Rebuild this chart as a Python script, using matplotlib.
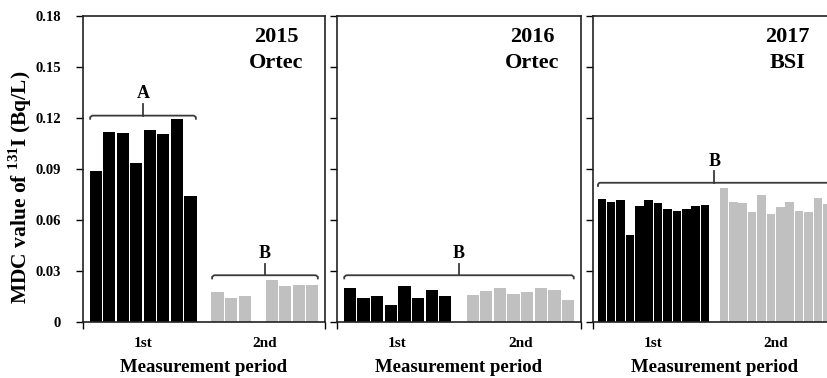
# MDC of I-131 for three measurement years, two periods each

import numpy as np
import matplotlib.pyplot as plt

plt.rcParams['font.family'] = ['Liberation Serif', 'DejaVu Serif']
plt.rcParams['font.weight'] = 'bold'
plt.rcParams['mathtext.fontset'] = 'custom'
plt.rcParams['mathtext.rm'] = 'Liberation Serif:bold'
plt.rcParams['mathtext.bf'] = 'Liberation Serif:bold'

# panel labels
years = ["2015", "2016", "2017"]
detectors = ["Ortec", "Ortec", "BSI"]
periods = ["1st", "2nd"]

# MDC values (Bq/L)
first_2015 = [0.0887, 0.1117, 0.1111, 0.0934, 0.1129, 0.1103, 0.1192, 0.0740]
second_2015 = [0.0175, 0.0141, 0.0153, 0.0, 0.0249, 0.0212, 0.0218, 0.0218]
first_2016 = [0.0202, 0.0141, 0.0153, 0.0098, 0.0214, 0.0141, 0.0188, 0.0153]
second_2016 = [0.0159, 0.0182, 0.0202, 0.0165, 0.0176, 0.0202, 0.0188, 0.0127]
first_2017 = [0.0722, 0.0704, 0.0716, 0.0510, 0.0680, 0.0716, 0.0698, 0.0663,
              0.0651, 0.0663, 0.0680, 0.0686]
second_2017 = [0.0790, 0.0706, 0.0700, 0.0645, 0.0749, 0.0633, 0.0675, 0.0706,
               0.0653, 0.0645, 0.0729, 0.0694]

# significance groups: (which bars, letter, bracket level)
groups_2015 = [("first", "A", 0.1214), ("second", "B", 0.0275)]
groups_2016 = [("all", "B", 0.0275)]
groups_2017 = [("all", "B", 0.0819)]

panels = [
    (first_2015, second_2015, groups_2015),
    (first_2016, second_2016, groups_2016),
    (first_2017, second_2017, groups_2017),
]

yticks = [0, 0.03, 0.06, 0.09, 0.12, 0.15, 0.18]
ytick_labels = ["0", "0.03", "0.06", "0.09", "0.12", "0.15", "0.18"]

fig = plt.figure(figsize=(8.28, 3.78), dpi=100)
H = 378.0
W = 828.0
bottom = (H - 322) / H
height = 306 / H
lefts = [83, 337, 593]
widths = [242, 244, 243]

BW = 0.9


def bracket(ax, x0, x1, y, letter):
    c = '#3a3a3a'
    r = 0.15
    ax.plot([x0, x0, x0 + r, x1 - r, x1, x1],
            [y - 0.0024, y - 0.0009, y, y, y - 0.0009, y - 0.0024],
            color=c, lw=1.3, solid_capstyle='butt', clip_on=False)
    xc = (x0 + x1) / 2
    ax.plot([xc, xc], [y, y + 0.0068], color=c, lw=1.3, clip_on=False)
    ax.text(xc, y + 0.0128, letter, ha='center', va='center', fontsize=13,
            fontweight='bold')


for i, (first, second, groups) in enumerate(panels):
    ax = fig.add_axes([lefts[i] / W, bottom, widths[i] / W, height])
    n = len(first)
    x1 = np.arange(n)
    x2 = np.arange(len(second)) + n + 1
    ax.bar(x1, first, width=BW, color='black', linewidth=0)
    ax.bar(x2, second, width=BW, color='#c0c0c0', linewidth=0)

    ax.set_ylim(0, 0.18)
    ax.set_xlim(-0.93, x2[-1] + 0.93)

    for kind, letter, level in groups:
        if kind == "first":
            a, b = x1[0], x1[-1]
        elif kind == "second":
            a, b = x2[0], x2[-1]
        else:
            a, b = x1[0], x2[-1]
        bracket(ax, a - 0.4, b + 0.4, level, letter)

    ax.text(0.80, 0.930, years[i], transform=ax.transAxes, ha='center',
            va='center', fontsize=16, fontweight='bold')
    ax.text(0.80, 0.846, detectors[i], transform=ax.transAxes, ha='center',
            va='center', fontsize=16, fontweight='bold')

    ax.set_yticks(yticks)
    if i == 0:
        ax.set_yticklabels(ytick_labels, fontsize=10.5, fontweight='bold')
    else:
        ax.set_yticklabels([])
    ax.tick_params(axis='y', direction='out', length=5, width=1.0, pad=11)

    ax.set_xticks([x1.mean(), x2.mean()])
    ax.set_xticklabels(periods, fontsize=11, fontweight='bold')
    ax.set_xticks([ax.get_xlim()[0], ax.get_xlim()[1]], minor=True)
    ax.tick_params(axis='x', which='major', length=0, pad=11)
    ax.tick_params(axis='x', which='minor', direction='out', length=5, width=1.0)
    ax.set_xlabel("Measurement period", fontsize=13.5, fontweight='bold',
                  labelpad=6)

    for s in ax.spines.values():
        s.set_linewidth(1.2)
        s.set_color('#222222')

fig.text(20 / W, 1 - 187 / H, r"MDC value of $^{\mathbf{131}}$I (Bq/L)",
         rotation=90, ha='center', va='center', fontsize=15.5,
         fontweight='bold')

plt.savefig('out.png', dpi=100)
